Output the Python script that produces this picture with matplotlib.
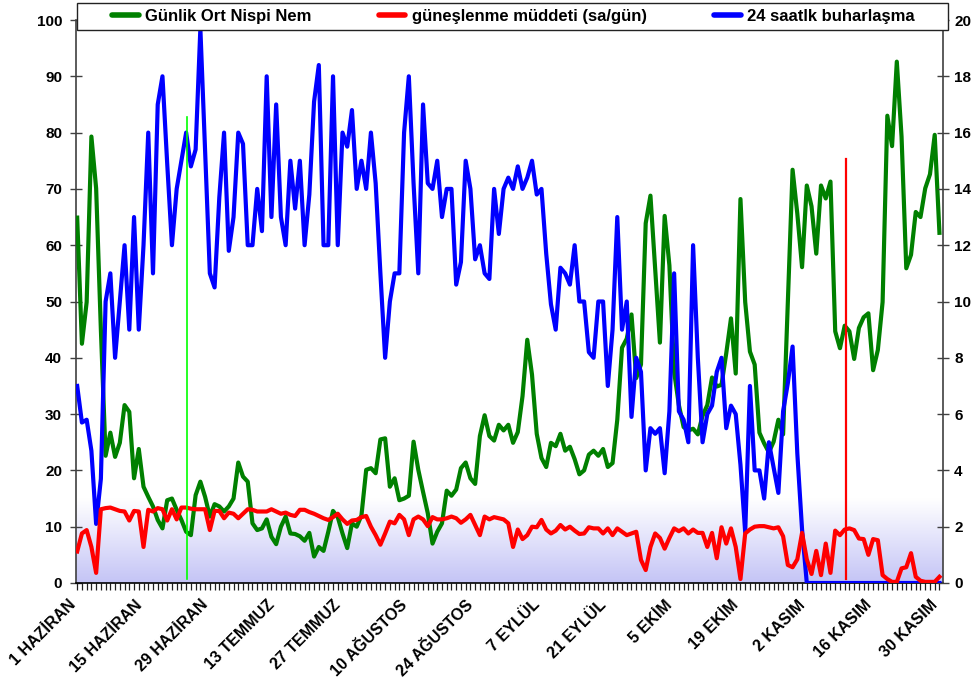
import numpy as np
import matplotlib
matplotlib.use("Agg")
import matplotlib.pyplot as plt
from matplotlib.lines import Line2D
from matplotlib.patches import Rectangle
from matplotlib.transforms import ScaledTranslation
from matplotlib.colors import LinearSegmentedColormap

plt.rcParams['font.family'] = ['Liberation Sans', 'DejaVu Sans']
plt.rcParams['font.weight'] = 'bold'

# Daily series, 1 June .. 30 November (183 days)
tick_days = [0, 14, 28, 42, 56, 70, 84, 98, 112, 126, 140, 154, 168, 182]
tick_labels = ["1 HAZİRAN", "15 HAZİRAN", "29 HAZİRAN", "13 TEMMUZ", "27 TEMMUZ",
               "10 AĞUSTOS", "24 AĞUSTOS", "7 EYLÜL", "21 EYLÜL", "5 EKİM",
               "19 EKİM", "2 KASIM", "16 KASIM", "30 KASIM"]

# Günlük ortalama nispi nem (%) - left axis
humidity = [
    64.9, 42.5, 49.9, 79.3, 70.1, 45.0, 22.6, 26.7, 22.4, 24.9,
    31.6, 30.4, 18.6, 23.8, 17.1, 15.3, 13.6, 11.2, 9.7, 14.7,
    15.0, 13.0, 11.2, 9.1, 8.5, 15.6, 18.0, 15.3, 11.8, 14.0,
    13.6, 12.7, 13.6, 15.0, 21.4, 18.9, 18.0, 10.6, 9.4, 9.7,
    11.3, 8.2, 6.9, 10.0, 11.8, 8.8, 8.7, 8.3, 7.5, 8.9,
    4.7, 6.4, 5.7, 9.1, 12.8, 11.7, 8.8, 6.2, 10.6, 10.0,
    12.0, 20.1, 20.4, 19.5, 25.5, 25.7, 17.1, 18.6, 14.7, 15.0,
    15.5, 25.1, 20.1, 16.2, 12.4, 7.0, 9.1, 10.6, 16.4, 15.5,
    16.6, 20.4, 21.4, 18.6, 17.6, 26.1, 29.8, 26.1, 25.3, 28.1,
    27.1, 28.1, 24.9, 26.8, 33.2, 43.2, 37.0, 26.5, 22.2, 20.6,
    24.9, 24.3, 26.5, 23.5, 24.2, 22.0, 19.3, 20.0, 22.8, 23.5,
    22.6, 23.8, 20.6, 21.3, 29.0, 41.8, 43.4, 47.7, 36.4, 38.8,
    63.9, 68.8, 55.8, 42.7, 65.2, 56.4, 37.5, 31.6, 27.7, 27.1,
    27.4, 26.4, 29.7, 31.6, 36.5, 34.9, 35.2, 40.8, 47.0, 37.2,
    68.2, 49.9, 41.1, 38.8, 26.7, 24.8, 23.2, 25.1, 29.0, 26.4,
    50.0, 73.4, 65.6, 56.1, 70.6, 66.9, 58.5, 70.6, 68.3, 71.3,
    44.7, 41.7, 45.7, 44.7, 39.8, 45.3, 47.2, 47.9, 37.8, 41.4,
    49.9, 83.0, 77.6, 92.6, 79.3, 55.9, 58.3, 65.9, 65.0, 70.1,
    72.6, 79.6, 62.2,
]

# Güneşlenme müddeti (saat/gün) - left axis
sunshine = [
    5.6, 8.8, 9.4, 6.4, 1.8, 13.1, 13.3, 13.4, 13.1, 12.8,
    12.7, 11.1, 12.8, 12.7, 6.4, 13.0, 12.7, 13.3, 13.1, 11.1,
    13.1, 11.3, 13.4, 13.4, 13.2, 13.1, 13.1, 13.1, 9.4, 12.8,
    12.8, 11.5, 12.5, 12.3, 11.5, 12.3, 13.1, 13.0, 12.7, 12.7,
    12.7, 13.1, 12.7, 12.3, 12.5, 12.1, 11.9, 13.0, 13.0, 12.6,
    12.3, 11.9, 11.5, 11.2, 11.7, 12.3, 11.3, 10.5, 11.1, 11.2,
    11.7, 11.9, 10.0, 8.5, 6.8, 8.8, 10.9, 10.6, 12.1, 11.3,
    8.5, 11.3, 11.8, 11.3, 10.1, 11.7, 11.3, 11.3, 11.5, 11.8,
    11.5, 10.7, 11.3, 12.1, 10.3, 8.5, 11.8, 11.3, 11.7, 11.5,
    11.3, 10.6, 6.4, 9.5, 7.8, 8.5, 10.0, 9.9, 11.2, 9.5,
    8.8, 9.3, 10.3, 9.5, 10.0, 9.3, 8.7, 8.8, 9.9, 9.7,
    9.7, 8.8, 9.7, 8.5, 9.7, 9.1, 8.5, 8.8, 9.1, 4.1,
    2.3, 6.4, 8.8, 8.0, 6.1, 8.0, 9.7, 9.2, 9.7, 8.8,
    9.5, 8.9, 8.9, 6.4, 8.9, 4.4, 9.9, 7.0, 9.7, 6.4,
    0.7, 8.8, 9.5, 10.0, 10.1, 10.1, 9.9, 9.7, 9.9, 8.3,
    3.2, 2.8, 4.2, 8.9, 4.2, 1.6, 5.7, 1.4, 7.0, 1.8,
    9.3, 8.5, 9.5, 9.7, 9.4, 7.9, 7.8, 5.0, 7.8, 7.6,
    1.4, 0.7, 0.2, 0.2, 2.6, 2.8, 5.3, 1.1, 0.4, 0.2,
    0.2, 0.2, 1.1,
]

# 24 saatlik buharlaşma (mm) - right axis
evaporation = [
    7.0, 5.7, 5.8, 4.7, 2.1, 3.7, 10.0, 11.0, 8.0, 10.0,
    12.0, 9.0, 13.0, 9.0, 12.0, 16.0, 11.0, 17.0, 18.0, 14.9,
    12.0, 14.0, 15.0, 16.0, 14.8, 15.4, 19.7, 15.3, 11.0, 10.5,
    13.7, 16.0, 11.8, 13.0, 16.0, 15.6, 12.0, 12.0, 14.0, 12.5,
    18.0, 13.0, 17.0, 13.0, 12.0, 15.0, 13.3, 15.0, 12.0, 13.8,
    17.1, 18.4, 12.0, 12.0, 18.0, 12.0, 16.0, 15.5, 16.8, 14.0,
    15.0, 14.0, 16.0, 14.2, 11.0, 8.0, 10.0, 11.0, 11.0, 16.0,
    18.0, 14.2, 11.0, 17.0, 14.2, 14.0, 15.0, 13.0, 14.0, 14.0,
    10.6, 11.4, 15.0, 14.0, 11.5, 12.0, 11.0, 10.8, 14.0, 12.4,
    14.0, 14.4, 14.0, 14.8, 14.0, 14.4, 15.0, 13.8, 14.0, 11.7,
    9.9, 9.0, 11.2, 11.0, 10.6, 12.0, 10.0, 10.0, 8.2, 8.0,
    10.0, 10.0, 7.0, 9.0, 13.0, 9.0, 10.0, 5.9, 8.0, 7.5,
    4.0, 5.5, 5.3, 5.5, 3.9, 6.1, 11.0, 6.1, 5.8, 5.0,
    12.0, 8.0, 5.0, 6.0, 6.3, 7.5, 8.0, 5.5, 6.3, 6.0,
    4.2, 1.8, 7.0, 4.0, 4.0, 3.0, 5.0, 4.1, 3.2, 6.1,
    7.1, 8.4, 4.6, 1.9, 0.0, 0.0, 0.0, 0.0, 0.0, 0.0,
    0.0, 0.0, 0.0, 0.0, 0.0, 0.0, 0.0, 0.0, 0.0, 0.0,
    0.0, 0.0, 0.0, 0.0, 0.0, 0.0, 0.0, 0.0, 0.0, 0.0,
    0.0, 0.0, 0.0,
]

series_labels = ["Günlik Ort Nispi Nem", "güneşlenme müddeti (sa/gün)",
                 "24 saatlk buharlaşma"]

# Vertical reference markers (day index, top value on left axis)
green_marker = (23.2, 82.8)
red_marker = (162.2, 75.3)

days = np.arange(len(humidity))

W, H = 975, 691
fig = plt.figure(figsize=(W / 100, H / 100), dpi=100)
ax = fig.add_axes([76 / W, 1 - 583 / H, 867 / W, 563 / H])
ax2 = ax.twinx()

x0, x1 = -0.25, 182.75

# soft lavender shading near the floor of the plot
grad = np.linspace(0, 1, 256).reshape(-1, 1)
cmap = LinearSegmentedColormap.from_list("floor", ["#c4c4f6", "#ffffff"])
ax.imshow(grad, extent=[x0, x1, 0, 15], origin="lower", aspect="auto",
          cmap=cmap, zorder=0, interpolation="bilinear")

ax.plot(days, humidity, color="#008000", lw=3.0, zorder=3)
ax2.plot(days, evaporation, color="#0000ff", lw=3.0, zorder=3)
ax2.plot(days, sunshine, color="#ff0000", lw=3.0, zorder=4,
         transform=ax.transData)
ax2.plot([green_marker[0]] * 2, [0.7, green_marker[1]], color="#00ff00",
         lw=1.2, zorder=5, transform=ax.transData)
ax2.plot([red_marker[0]] * 2, [0.7, red_marker[1]], color="#ff0000",
         lw=1.6, zorder=5, transform=ax.transData)

ax.set_xlim(x0, x1)
ax.set_ylim(0, 100)
ax2.set_ylim(0, 20)

ax.set_yticks(range(0, 101, 10))
ax2.set_yticks(range(0, 21, 2))
ax.tick_params(axis="y", direction="inout", length=8, width=1.0,
               color="#404040", pad=6, labelsize=11)
ax2.tick_params(axis="y", direction="inout", length=8, width=1.0,
                color="#404040", pad=4, labelsize=11)

ax.set_xticks(days, minor=True)
ax.set_xticks(tick_days)
ax.set_xticklabels(tick_labels, rotation=45, ha="right", va="center",
                   rotation_mode="anchor", fontsize=11.5, fontweight="bold")
ax.tick_params(axis="x", which="both", direction="out", length=5, width=0.9,
               color="#202020", pad=9)
offset = ScaledTranslation(-4 / 100, 0, fig.dpi_scale_trans)
for lbl in ax.get_xticklabels():
    lbl.set_transform(lbl.get_transform() + offset)

for a in (ax, ax2):
    a.spines["top"].set_visible(False)
ax.spines["right"].set_visible(False)
ax2.spines["left"].set_visible(False)
ax2.spines["bottom"].set_visible(False)
ax.spines["left"].set_color("#404040")
ax2.spines["right"].set_color("#404040")
ax.spines["bottom"].set_color("#000000")
for s in ("left", "bottom"):
    ax.spines[s].set_linewidth(1.2)
ax2.spines["right"].set_linewidth(1.2)

# legend strip across the top
frame = Rectangle((77 / W, 1 - 30 / H), 871 / W, 27 / H, transform=fig.transFigure,
                  facecolor="white", edgecolor="#222222", lw=1.0, zorder=4)
fig.add_artist(frame)
handles = [Line2D([], [], color=c, lw=4, solid_capstyle="round")
           for c in ("#008000", "#ff0000", "#0000ff")]
fig.legend(handles, series_labels, loc="center",
           bbox_to_anchor=(112 / W, 1 - 28 / H, (915 - 112) / W, 24 / H),
           mode="expand", ncol=3, frameon=False, borderpad=0, borderaxespad=0,
           handlelength=1.6, handletextpad=0.4,
           prop={"weight": "bold", "size": 12})

fig.savefig("out.png", dpi=100)
